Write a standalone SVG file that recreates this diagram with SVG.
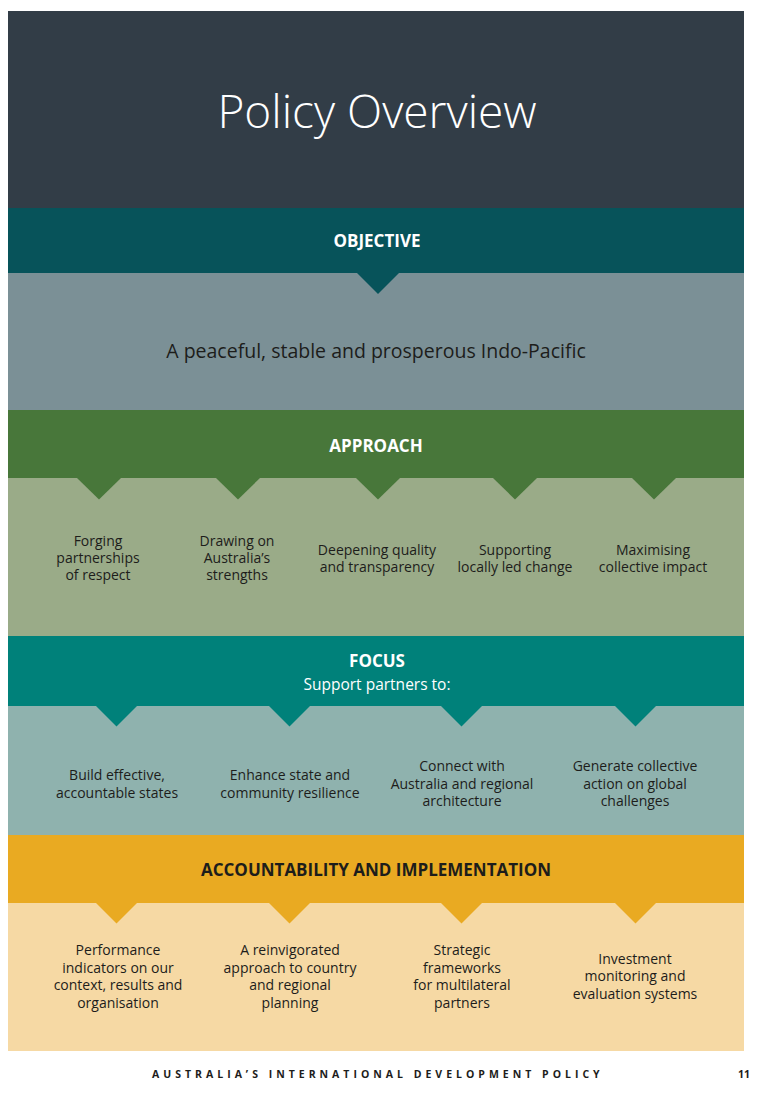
<svg xmlns="http://www.w3.org/2000/svg" width="764" height="1098" viewBox="0 0 764 1098">
  <style>
    .title { font-family: "Open Sans", "Noto Sans", sans-serif; font-weight: 300; font-size: 46px; fill: #ffffff; text-anchor: middle; }
    .head { font-family: "Open Sans", "Noto Sans", sans-serif; font-weight: 700; font-size: 17px; fill: #ffffff; text-anchor: middle; }
    .head.dark { fill: #1d1d1b; }
    .sub { font-family: "Open Sans", "Noto Sans", sans-serif; font-weight: 500; font-size: 15.5px; fill: #ffffff; text-anchor: middle; }
    .item { font-family: "Open Sans", "Noto Sans", sans-serif; font-weight: 500; font-size: 14px; fill: #1d1d1b; text-anchor: middle; }
    .lead { font-family: "Open Sans", "Noto Sans", sans-serif; font-weight: 500; font-size: 19.5px; fill: #1d1d1b; text-anchor: middle; }
    .foot { font-family: "Open Sans", "Noto Sans", sans-serif; font-weight: 700; font-size: 10.5px; fill: #1d1d1b; letter-spacing: 4px; }
  </style>

  <rect width="764" height="1098" fill="#ffffff"/>

  <!-- header -->
  <g id="header">
    <rect x="8" y="11" width="736" height="197" fill="#323d47"/>
    <text class="title" x="377" y="128">Policy Overview</text>
  </g>

  <!-- objective -->
  <g id="objective">
    <rect x="8" y="208" width="736" height="65" fill="#07535a"/>
    <text class="head" x="377" y="247">OBJECTIVE</text>
  </g>
  <g id="objective-statement">
    <rect x="8" y="273" width="736" height="137" fill="#7b9096"/>
    <text class="lead" x="376" y="358">A peaceful, stable and prosperous Indo-Pacific</text>
  </g>

  <!-- approach -->
  <g id="approach">
    <rect x="8" y="410" width="736" height="68" fill="#48773a"/>
    <text class="head" x="376" y="452">APPROACH</text>
  </g>
  <g id="approach-items">
    <rect x="8" y="478" width="736" height="158" fill="#9aab88"/>
  </g>
  <g id="approach-partnerships">
    <text class="item" x="98" y="546">Forging</text>
    <text class="item" x="98" y="563">partnerships</text>
    <text class="item" x="98" y="580">of respect</text>
  </g>
  <g id="approach-strengths">
    <text class="item" x="237" y="546">Drawing on</text>
    <text class="item" x="237" y="563">Australia’s</text>
    <text class="item" x="237" y="580">strengths</text>
  </g>
  <g id="approach-quality">
    <text class="item" x="377" y="554.5">Deepening quality</text>
    <text class="item" x="377" y="571.5">and transparency</text>
  </g>
  <g id="approach-local">
    <text class="item" x="515" y="554.5">Supporting</text>
    <text class="item" x="515" y="571.5">locally led change</text>
  </g>
  <g id="approach-collective">
    <text class="item" x="653" y="554.5">Maximising</text>
    <text class="item" x="653" y="571.5">collective impact</text>
  </g>

  <!-- focus -->
  <g id="focus">
    <rect x="8" y="636" width="736" height="70" fill="#00817a"/>
    <text class="head" x="377" y="666.5">FOCUS</text>
    <text class="sub" x="377" y="690">Support partners to:</text>
  </g>
  <g id="focus-items">
    <rect x="8" y="706" width="736" height="129" fill="#8fb2ae"/>
  </g>
  <g id="focus-states">
    <text class="item" x="117" y="780">Build effective,</text>
    <text class="item" x="117" y="797.5">accountable states</text>
  </g>
  <g id="focus-resilience">
    <text class="item" x="290" y="780">Enhance state and</text>
    <text class="item" x="290" y="797.5">community resilience</text>
  </g>
  <g id="focus-connect">
    <text class="item" x="462" y="771">Connect with</text>
    <text class="item" x="462" y="788.5">Australia and regional</text>
    <text class="item" x="462" y="806">architecture</text>
  </g>
  <g id="focus-global">
    <text class="item" x="635" y="771">Generate collective</text>
    <text class="item" x="635" y="788.5">action on global</text>
    <text class="item" x="635" y="806">challenges</text>
  </g>

  <!-- accountability and implementation -->
  <g id="accountability">
    <rect x="8" y="835" width="736" height="68" fill="#e9aa22"/>
    <text class="head dark" x="376" y="876">ACCOUNTABILITY AND IMPLEMENTATION</text>
  </g>
  <g id="accountability-items">
    <rect x="8" y="903" width="736" height="148" fill="#f6d9a4"/>
  </g>
  <g id="acc-indicators">
    <text class="item" x="118" y="955">Performance</text>
    <text class="item" x="118" y="972.5">indicators on our</text>
    <text class="item" x="118" y="990">context, results and</text>
    <text class="item" x="118" y="1007.5">organisation</text>
  </g>
  <g id="acc-planning">
    <text class="item" x="290" y="955">A reinvigorated</text>
    <text class="item" x="290" y="972.5">approach to country</text>
    <text class="item" x="290" y="990">and regional</text>
    <text class="item" x="290" y="1007.5">planning</text>
  </g>
  <g id="acc-frameworks">
    <text class="item" x="462" y="955">Strategic</text>
    <text class="item" x="462" y="972.5">frameworks</text>
    <text class="item" x="462" y="990">for multilateral</text>
    <text class="item" x="462" y="1007.5">partners</text>
  </g>
  <g id="acc-monitoring">
    <text class="item" x="635" y="963.5">Investment</text>
    <text class="item" x="635" y="981">monitoring and</text>
    <text class="item" x="635" y="998.5">evaluation systems</text>
  </g>

  <!-- pointer notches from each heading band into the row below -->
  <g id="connectors">
    <path d="M357 273 L399 273 L378 294 Z" fill="#07535a"/>
    <path d="M77 478 L121 478 L99 499.5 Z" fill="#48773a"/>
    <path d="M216 478 L260 478 L238 499.5 Z" fill="#48773a"/>
    <path d="M356 478 L400 478 L378 499.5 Z" fill="#48773a"/>
    <path d="M493 478 L537 478 L515 499.5 Z" fill="#48773a"/>
    <path d="M632 478 L676 478 L654 499.5 Z" fill="#48773a"/>
    <path d="M96 706 L137 706 L116.5 726.5 Z" fill="#00817a"/>
    <path d="M269 706 L310 706 L289.5 726.5 Z" fill="#00817a"/>
    <path d="M441 706 L482 706 L461.5 726.5 Z" fill="#00817a"/>
    <path d="M615 706 L656 706 L635.5 726.5 Z" fill="#00817a"/>
    <path d="M96 903 L137 903 L116.5 923.5 Z" fill="#e9aa22"/>
    <path d="M269 903 L310 903 L289.5 923.5 Z" fill="#e9aa22"/>
    <path d="M441 903 L482 903 L461.5 923.5 Z" fill="#e9aa22"/>
    <path d="M615 903 L656 903 L635.5 923.5 Z" fill="#e9aa22"/>
  </g>

  <!-- footer -->
  <g id="footer">
    <text class="foot" x="152" y="1078">AUSTRALIA’S INTERNATIONAL DEVELOPMENT POLICY</text>
    <text class="foot" x="750" y="1078" text-anchor="end" style="letter-spacing:0">11</text>
  </g>
</svg>
